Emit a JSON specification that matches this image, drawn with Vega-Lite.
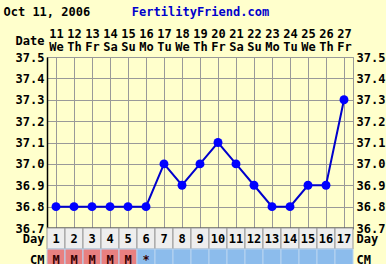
{
  "$schema": "https://vega.github.io/schema/vega-lite/v6.json",
  "background": "#ffffcc",
  "padding": {"left": 2, "top": 4, "right": 0, "bottom": 0},
  "spacing": 0,
  "bounds": "flush",
  "config": {
    "view": {"stroke": null},
    "axis": {"labelFont": "DejaVu Sans Mono", "labelFontSize": 12, "labelFontWeight": "bold", "labelColor": "#000000", "titleFont": "DejaVu Sans Mono", "titleFontSize": 12, "titleFontWeight": "bold", "titleColor": "#000000"},
    "text": {"font": "DejaVu Sans Mono", "fontSize": 12, "fontWeight": "bold", "color": "#000000"}
  },
  "datasets": {
    "days": [
      {"day": 1, "hdr": "11|We", "temp": 36.8, "cm": "M"},
      {"day": 2, "hdr": "12|Th", "temp": 36.8, "cm": "M"},
      {"day": 3, "hdr": "13|Fr", "temp": 36.8, "cm": "M"},
      {"day": 4, "hdr": "14|Sa", "temp": 36.8, "cm": "M"},
      {"day": 5, "hdr": "15|Su", "temp": 36.8, "cm": "M"},
      {"day": 6, "hdr": "16|Mo", "temp": 36.8, "cm": "*"},
      {"day": 7, "hdr": "17|Tu", "temp": 37.0, "cm": ""},
      {"day": 8, "hdr": "18|We", "temp": 36.9, "cm": ""},
      {"day": 9, "hdr": "19|Th", "temp": 37.0, "cm": ""},
      {"day": 10, "hdr": "20|Fr", "temp": 37.1, "cm": ""},
      {"day": 11, "hdr": "21|Sa", "temp": 37.0, "cm": ""},
      {"day": 12, "hdr": "22|Su", "temp": 36.9, "cm": ""},
      {"day": 13, "hdr": "23|Mo", "temp": 36.8, "cm": ""},
      {"day": 14, "hdr": "24|Tu", "temp": 36.8, "cm": ""},
      {"day": 15, "hdr": "25|We", "temp": 36.9, "cm": ""},
      {"day": 16, "hdr": "26|Th", "temp": 36.9, "cm": ""},
      {"day": 17, "hdr": "27|Fr", "temp": 37.3, "cm": ""}
    ]
  },
  "vconcat": [
    {
      "width": 306,
      "height": 171,
      "view": {"stroke": "#999999", "fill": "#ffffcc"},
      "data": {"name": "days"},
      "layer": [
        {"mark": {"type": "line", "color": "#0000cc", "strokeWidth": 2},
          "encoding": {
            "x": {"field": "hdr", "type": "ordinal", "sort": null, "scale": {"paddingInner": 0, "paddingOuter": 0},
              "axis": {"bandPosition": 0, "grid": true, "gridColor": "#999999", "gridOpacity": 1, "labels": false, "ticks": false, "domain": true, "domainColor": "#000000", "domainWidth": 2, "title": null, "minExtent": 0, "maxExtent": 0, "labelPadding": 0}},
            "y": {"field": "temp", "type": "quantitative", "scale": {"domain": [36.7, 37.5], "nice": false, "zero": false},
              "axis": {"values": [36.7, 36.8, 36.9, 37.0, 37.1, 37.2, 37.3, 37.4, 37.5], "format": ".1f", "grid": true, "gridColor": "#999999", "gridOpacity": 1, "ticks": false, "labelPadding": 3, "domainColor": "#000000", "domainWidth": 1.5,
                "title": "Oct 11, 2006", "titleAngle": 0, "titleAlign": "left", "titleBaseline": "middle", "titleX": -44, "titleY": -46}}
          }},
        {"mark": {"type": "point", "filled": true, "color": "#0000ff", "size": 80, "opacity": 1},
          "encoding": {
            "x": {"field": "hdr", "type": "ordinal", "sort": null,
              "axis": {"orient": "top", "labelExpr": "split(datum.value, '|')", "labelLineHeight": 13, "labelPadding": 24, "labelAngle": 0, "labelBaseline": "middle", "ticks": false, "domain": false, "grid": false,
                "title": "Date", "titleAngle": 0, "titleAlign": "right", "titleBaseline": "middle", "titleX": -3, "titleY": -17}},
            "y": {"field": "temp", "type": "quantitative",
              "axis": {"orient": "right", "values": [36.7, 36.8, 36.9, 37.0, 37.1, 37.2, 37.3, 37.4, 37.5], "format": ".1f", "grid": false, "ticks": false, "domain": false, "labelPadding": 3,
                "title": "FertilityFriend.com", "titleColor": "#0000cc", "titleAngle": 0, "titleAlign": "center", "titleBaseline": "middle", "titleX": -153, "titleY": -46}}
          }}
      ],
      "resolve": {"axis": {"y": "independent", "x": "independent"}}
    },
    {
      "width": 306,
      "height": 42,
      "data": {"name": "days"},
      "encoding": {
        "x": {"field": "day", "type": "ordinal", "scale": {"paddingInner": 0, "paddingOuter": 0}, "axis": null}
      },
      "layer": [
        {
          "mark": {"type": "rect", "fill": "#eeeeee", "stroke": "#999999", "strokeWidth": 1},
          "encoding": {
            "y": {"datum": "Day", "type": "ordinal", "scale": {"domain": ["Day", "CM"], "paddingInner": 0, "paddingOuter": 0},
              "axis": {"values": ["Day", "CM"], "title": null, "ticks": false, "domain": false, "labelPadding": 3, "grid": false}}
          }
        },
        {
          "mark": {"type": "rect", "stroke": "#b8d4f0", "strokeWidth": 1},
          "encoding": {
            "y": {"datum": "CM", "type": "ordinal", "axis": null},
            "color": {"condition": {"test": "datum.cm == 'M'", "value": "#e88080"}, "value": "#8cbcec"}
          }
        },
        {
          "mark": {"type": "text"},
          "encoding": {
            "y": {"datum": "Day", "type": "ordinal", "axis": null},
            "text": {"field": "day"}
          }
        },
        {
          "mark": {"type": "text", "color": "#330000"},
          "encoding": {
            "y": {"datum": "CM", "type": "ordinal",
              "axis": {"orient": "right", "values": ["Day", "CM"], "title": null, "ticks": false, "domain": false, "labelPadding": 3, "grid": false}},
            "text": {"field": "cm"}
          }
        }
      ],
      "resolve": {"axis": {"y": "independent"}}
    }
  ]
}
